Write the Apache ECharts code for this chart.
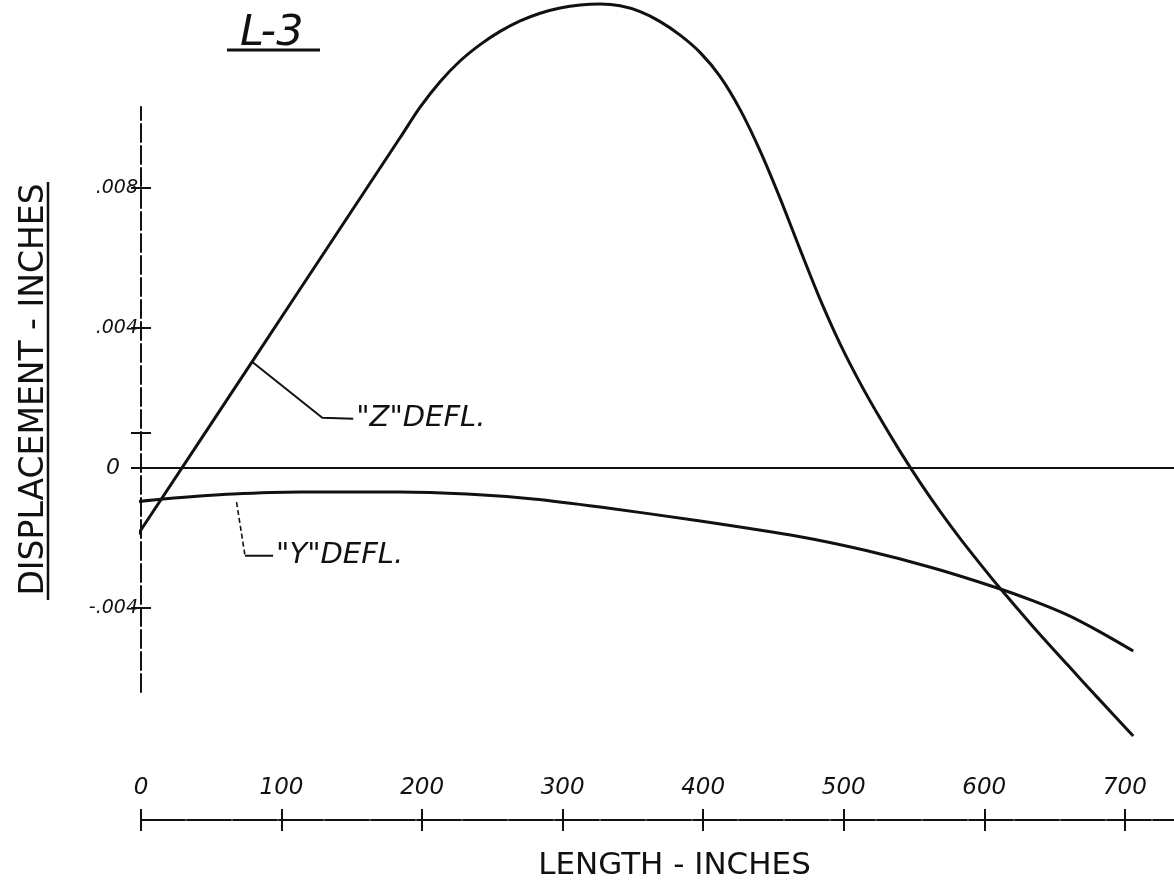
<!DOCTYPE html>
<html>
<head>
<meta charset="utf-8">
<script src="https://cdn.jsdelivr.net/npm/echarts@6/dist/echarts.min.js"></script>
<style>
  html, body { margin: 0; padding: 0; background: #ffffff; }
  #chart { width: 1174px; height: 886px; }
</style>
</head>
<body>
<div id="chart"></div>
<script>
// Station along the member (inches) and lateral deflection (inches), case L-3
const zLength = [-5.7, 79.0, 134.5, 184.3, 198.6, 212.8, 227.0, 241.3, 255.5, 269.8, 284.0, 298.2, 312.5, 326.7, 340.9, 355.2, 369.4, 383.6, 397.9, 412.1, 426.3, 440.6, 454.8, 469.0, 483.3, 497.5, 511.7, 526.0, 540.2, 554.4, 568.7, 582.9, 597.2, 611.4, 634.9, 659.1, 682.6, 706.0];
const zDefl   = [-0.002118, 0.003026, 0.006397, 0.009421, 0.010294, 0.011022, 0.011613, 0.012081, 0.012458, 0.012758, 0.012977, 0.013126, 0.013212, 0.013240, 0.013189, 0.013023, 0.012738, 0.012352, 0.011853, 0.011168, 0.010226, 0.009041, 0.007685, 0.006229, 0.004802, 0.003531, 0.002418, 0.001405, 0.000462, -0.000422, -0.001250, -0.002021, -0.002749, -0.003448, -0.004542, -0.005618, -0.006646, -0.007654];

const yLength = [-5.7, 15.7, 65.5, 113.2, 184.3, 232.0, 279.0, 326.7, 397.9, 469.0, 516.7, 563.7, 609.3, 634.9, 659.1, 682.6, 706.0];
const yDefl   = [-0.00098, -0.00089, -0.00075, -0.00069, -0.00069, -0.00075, -0.00089, -0.00112, -0.00152, -0.00197, -0.00237, -0.00286, -0.00343, -0.00380, -0.00420, -0.00469, -0.00523];

// Axis ticks
const xTickValues = [0, 100, 200, 300, 400, 500, 600, 700];
const yTickValues = [-0.004, 0, 0.004, 0.008];
const yMinorTicks = [0.001];

// Callout leaders (data space); the "Z" leader starts on the Z curve
const zLeaderPath = [[129, 0.00143], [151, 0.00140]];
const yLeaderDrop = [[68, -0.00098], [74, -0.00251]];
const yLeaderFoot = [[74, -0.00251], [94, -0.00251]];

const zData = zLength.map((x, i) => [x, zDefl[i]]);
const yData = yLength.map((x, i) => [x, yDefl[i]]);

const INK = '#111';
const HAND = '"DejaVu Sans", "Liberation Sans", sans-serif';

function yLabel(v) {
  if (Math.abs(v) < 1e-12) return '{zero|0}';
  const s = Math.abs(v).toFixed(3).replace(/^0/, '');
  return (v < 0 ? '-' : '') + s;
}

const xRange = { min: 0, max: 735 };
const yRange = { min: -0.0064, max: 0.0103 };

const chart = echarts.init(document.getElementById('chart'), null, { renderer: 'canvas' });

chart.setOption({
  animation: false,
  backgroundColor: '#ffffff',
  grid: { left: 141, right: 0, top: 107, bottom: 194, containLabel: false },
  xAxis: [
    {
      type: 'value', position: 'bottom', offset: 128,
      min: xRange.min, max: xRange.max,
      name: 'LENGTH - INCHES', nameLocation: 'middle', nameGap: 30,
      nameTextStyle: { color: INK, fontFamily: HAND, fontSize: 31, padding: [0, 0, 0, 34] },
      axisLine: { show: true, onZero: false, lineStyle: { color: INK, width: 2, type: [44, 2] } },
      axisTick: { show: true, length: 11, customValues: xTickValues, lineStyle: { color: INK, width: 2 } },
      axisLabel: {
        show: true, inside: true, margin: 20, customValues: xTickValues,
        color: INK, fontFamily: HAND, fontStyle: 'italic', fontSize: 23
      },
      splitLine: { show: false }
    },
    {
      type: 'value', position: 'bottom', offset: 128,
      min: xRange.min, max: xRange.max,
      axisLine: { show: false, onZero: false },
      axisTick: { show: true, inside: true, length: 11, customValues: xTickValues, lineStyle: { color: INK, width: 2 } },
      axisLabel: { show: false },
      splitLine: { show: false }
    }
  ],
  yAxis: [
    {
      type: 'value', position: 'left',
      min: yRange.min, max: yRange.max,
      name: 'DISPLACEMENT - INCHES', nameLocation: 'middle', nameGap: 90, nameRotate: 90,
      nameTextStyle: { color: INK, fontFamily: HAND, fontSize: 33, padding: [0, 0, 0, 20] },
      axisLine: { show: true, onZero: false, lineStyle: { color: INK, width: 2, type: [18, 4] } },
      axisTick: { show: true, length: 10, customValues: yTickValues.concat(yMinorTicks), lineStyle: { color: INK, width: 2 } },
      axisLabel: {
        show: true, margin: 3, customValues: yTickValues, formatter: yLabel,
        color: INK, fontFamily: HAND, fontStyle: 'italic', fontSize: 19,
        rich: { zero: { fontFamily: HAND, fontStyle: 'italic', fontSize: 22, padding: [0, 18, 0, 0], color: INK } }
      },
      splitLine: { show: false }
    },
    {
      type: 'value', position: 'left',
      min: yRange.min, max: yRange.max,
      axisLine: { show: false, onZero: false },
      axisTick: { show: true, inside: true, length: 10, customValues: yTickValues.concat(yMinorTicks), lineStyle: { color: INK, width: 2 } },
      axisLabel: { show: false },
      splitLine: { show: false }
    }
  ],
  series: [
    {
      name: '"Z" DEFL.', type: 'line', data: zData, smooth: 0.3, clip: false,
      symbol: 'none', z: 4,
      lineStyle: { color: INK, width: 3 },
      markLine: {
        silent: true, symbol: ['none', 'none'], label: { show: false },
        lineStyle: { color: INK, width: 2, type: 'solid' },
        data: [{ yAxis: 0 }]
      }
    },
    {
      name: '"Y" DEFL.', type: 'line', data: yData, smooth: 0.3, clip: false,
      symbol: 'none', z: 4,
      lineStyle: { color: INK, width: 3 }
    },
    {
      name: 'zLeader', type: 'line', data: [zData[1]].concat(zLeaderPath), clip: false,
      symbol: 'none', z: 3, silent: true,
      lineStyle: { color: INK, width: 2 },
      endLabel: {
        show: true, formatter: '"Z"DEFL.', distance: 3,
        color: INK, fontFamily: HAND, fontStyle: 'italic', fontSize: 29
      }
    },
    {
      name: 'yLeaderDrop', type: 'line', data: yLeaderDrop, clip: false,
      symbol: 'none', z: 3, silent: true,
      lineStyle: { color: INK, width: 1.6, type: [5, 3] }
    },
    {
      name: 'yLeaderFoot', type: 'line', data: yLeaderFoot, clip: false,
      symbol: 'none', z: 3, silent: true,
      lineStyle: { color: INK, width: 2 },
      endLabel: {
        show: true, formatter: '"Y"DEFL.', distance: 3,
        color: INK, fontFamily: HAND, fontStyle: 'italic', fontSize: 29
      }
    }
  ],
  graphic: [
    {
      type: 'text', left: 240, top: 12,
      style: { text: 'L-3', fill: INK, font: 'italic 43px ' + HAND }
    },
    {
      type: 'line', shape: { x1: 227, y1: 50, x2: 320, y2: 50 },
      style: { stroke: INK, lineWidth: 3 }
    },
    {
      type: 'line', shape: { x1: 48, y1: 182, x2: 48, y2: 600 },
      style: { stroke: INK, lineWidth: 2.5 }
    }
  ]
});
</script>
</body>
</html>
